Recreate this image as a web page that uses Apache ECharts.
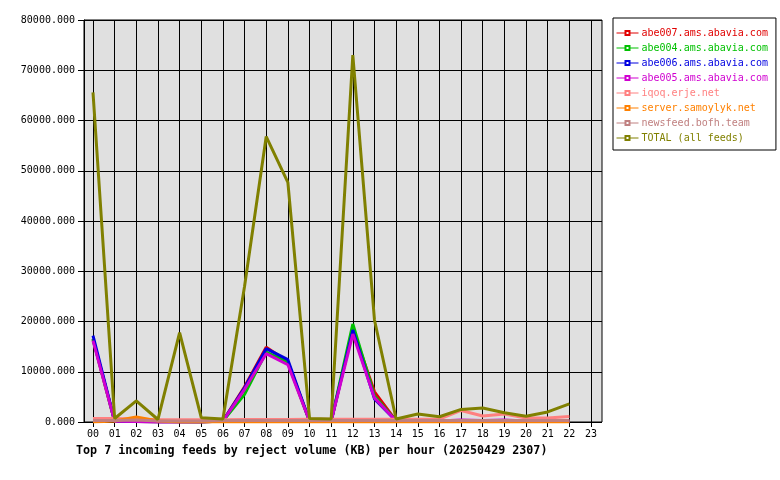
<!DOCTYPE html>
<html>
<head>
<meta charset="utf-8">
<script src="https://cdn.jsdelivr.net/npm/echarts@6/dist/echarts.min.js"></script>
<style>html,body{margin:0;padding:0;background:#fff;}#c{width:780px;height:480px;}</style>
</head>
<body>
<div id="c"></div>
<script>
const hours = ['00','01','02','03','04','05','06','07','08','09','10','11','12','13','14','15','16','17','18','19','20','21','22','23'];
const yTicks = [0, 10000, 20000, 30000, 40000, 50000, 60000, 70000, 80000];
const titleText = 'Top 7 incoming feeds by reject volume (KB) per hour (20250429 2307)';

const feedNames = ['abe007.ams.abavia.com','abe004.ams.abavia.com','abe006.ams.abavia.com','abe005.ams.abavia.com','iqoq.erje.net','server.samoylyk.net','newsfeed.bofh.team','TOTAL (all feeds)'];
const feedColors = ['#e00000','#00c000','#0000e0','#d000d0','#ff8080','#ff8000','#c08080','#808000'];

const abe007 = [16500, 150, 100, 0, 50, 0, 200, 7000, 14900, 12000, 200, 150, 18500, 6000, 200, 100, 100, 100, 100, 100, 100, 100, 100];
const abe004 = [16500, 150, 100, 200, 50, 0, 200, 5500, 13900, 11800, 200, 150, 19500, 5200, 200, 100, 100, 100, 100, 100, 100, 100, 100];
const abe006 = [17200, 200, 100, 0, 50, 0, 200, 6800, 14600, 12400, 200, 150, 18300, 4600, 200, 100, 100, 100, 100, 100, 100, 100, 100];
const abe005 = [16200, 150, 100, 0, 50, 0, 200, 6500, 13600, 11400, 200, 150, 17500, 4800, 200, 200, 200, 400, 300, 400, 200, 200, 200];
const iqoq = [700, 700, 600, 450, 450, 450, 450, 500, 500, 500, 550, 550, 550, 550, 550, 550, 600, 2300, 1200, 1600, 800, 800, 1100];
const samoylyk = [0, 200, 1000, 200, 0, 0, 0, 0, 0, 0, 0, 0, 0, 0, 0, 0, 0, 0, 0, 0, 0, 0, 0];
const bofh = [300, 300, 400, 200, 200, 200, 300, 300, 300, 300, 300, 300, 300, 300, 300, 300, 300, 300, 300, 300, 300, 300, 300];
const total = [65600, 700, 4200, 500, 17800, 850, 600, 27000, 56800, 47700, 700, 600, 73000, 20300, 600, 1600, 1050, 2500, 2800, 1850, 1150, 2000, 3600];

const feedData = [abe007, abe004, abe006, abe005, iqoq, samoylyk, bofh, total];

const mono = 'DejaVu Sans Mono';
const chart = echarts.init(document.getElementById('c'), null, {renderer: 'canvas'});

const series = feedNames.map((n, i) => ({
  name: n,
  type: 'line',
  xAxisIndex: 1,
  yAxisIndex: 1,
  data: feedData[i].map((v, h) => [h, v]),
  showSymbol: false,
  symbol: 'emptyRect',
  color: feedColors[i],
  lineStyle: {width: 3, color: feedColors[i]},
  itemStyle: {color: feedColors[i]},
  emphasis: {disabled: true},
  animation: false
}));

chart.setOption({
  animation: false,
  backgroundColor: '#ffffff',
  title: {
    text: titleText,
    left: 76,
    top: 445,
    padding: 0,
    textStyle: {fontFamily: mono, fontSize: 11.7, fontWeight: 'bold', color: '#000'}
  },
  legend: {
    orient: 'vertical',
    left: 613,
    top: 18,
    width: 160,
    backgroundColor: '#ffffff',
    borderColor: '#000',
    borderWidth: 1,
    borderRadius: 0,
    padding: [10, 8, 7, 3],
    itemWidth: 22,
    itemHeight: 5,
    itemGap: 5,
    lineStyle: {width: 1},
    textStyle: {fontFamily: mono, fontSize: 10, padding: [0, 0, 0, -2]},
    data: feedNames.map((n, i) => ({name: n, textStyle: {color: feedColors[i]}})),
    selectedMode: false
  },
  grid: [
    {left: 84, right: 178, top: 20, bottom: 58, show: true, backgroundColor: '#e0e0e0', borderColor: '#000', borderWidth: 1},
    {left: 93, right: 189, top: 20, bottom: 58, show: false}
  ],
  xAxis: [
    {gridIndex: 0, type: 'value', min: 0, max: 1, show: false},
    {gridIndex: 1, type: 'value', min: 0, max: 23, interval: 1,
     axisLine: {show: false},
     axisTick: {show: true, length: 5, lineStyle: {color: '#000'}},
     splitLine: {show: true, lineStyle: {color: '#000', width: 1}},
     axisLabel: {fontFamily: mono, fontSize: 10, color: '#000', margin: 7,
       formatter: v => hours[v]}}
  ],
  yAxis: [
    {gridIndex: 0, type: 'value', min: yTicks[0], max: yTicks[yTicks.length - 1], interval: 10000,
     axisLine: {show: true, lineStyle: {color: '#000'}},
     axisTick: {show: true, length: 6, lineStyle: {color: '#000'}},
     splitLine: {show: true, lineStyle: {color: '#000', width: 1}},
     axisLabel: {fontFamily: mono, fontSize: 10, color: '#000', margin: 9,
       formatter: v => v.toFixed(3)}},
    {gridIndex: 1, type: 'value', min: yTicks[0], max: yTicks[yTicks.length - 1], show: false}
  ],
  series: series
});
</script>
</body>
</html>
